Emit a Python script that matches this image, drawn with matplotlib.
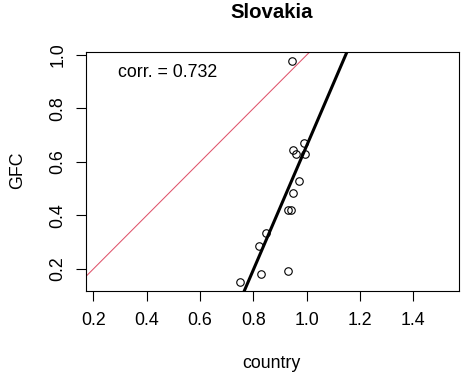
import numpy as np
import matplotlib
matplotlib.use("Agg")
import matplotlib.pyplot as plt

plt.rcParams['font.family'] = ['Liberation Sans', 'DejaVu Sans']

# values
country = [0.990, 0.948, 0.960, 0.993, 0.971, 0.948, 0.931, 0.941,
           0.848, 0.820, 0.828, 0.929, 0.750, 0.945]
gfc = [0.672, 0.645, 0.630, 0.630, 0.530, 0.483, 0.421, 0.421,
       0.333, 0.286, 0.181, 0.194, 0.153, 0.978]
fit_slope = 2.32
fit_intercept = -1.659
corr_text = "corr. = 0.732"
x_ticks = [0.2, 0.4, 0.6, 0.8, 1.0, 1.2, 1.4]
y_ticks = [0.2, 0.4, 0.6, 0.8, 1.0]


def draw():
    fig = plt.figure(figsize=(4.77, 3.81), dpi=100)
    ax = fig.add_axes([86 / 477, 1 - 291 / 381, (459 - 86) / 477, (291 - 52.3) / 381])

    ax.plot(country, gfc, 'o', mfc='none', mec='black', ms=5.4, mew=0.8, zorder=3)
    # y = x line and fitted line
    ax.axline((0, 0), slope=1, color='#DF536B', lw=0.75)
    ax.axline((0, fit_intercept), slope=fit_slope, color='black', lw=2.2)

    ax.set_xlim(0.1726, 1.571)
    ax.set_ylim(0.1178, 1.010)
    ax.set_xticks(x_ticks)
    ax.set_yticks(y_ticks)
    ax.set_xticklabels([f"{t:.1f}" for t in x_ticks])
    ax.set_yticklabels([f"{t:.1f}" for t in y_ticks], rotation=90, va='center')
    ax.tick_params(length=7, width=0.8, labelsize=12.8, colors='black')
    ax.tick_params(axis='x', pad=8)
    ax.tick_params(axis='y', pad=7)
    for s in ax.spines.values():
        s.set_linewidth(0.8)

    ax.text(0.293, 0.933, corr_text, fontsize=12.8, va='center', ha='left')

    fig.text(271.5 / 477, 1 - 12 / 381, "Slovakia", fontsize=14.7,
             fontweight='bold', ha='center', va='center')
    fig.text(271 / 477, 1 - 363 / 381, "country", fontsize=12.8, ha='center', va='center')
    fig.text(18 / 477, 1 - 170 / 381, "GFC", fontsize=12.8, ha='center', va='center',
             rotation=90)

    fig.savefig("out.png", dpi=100)


if __name__ == "__main__":
    draw()
